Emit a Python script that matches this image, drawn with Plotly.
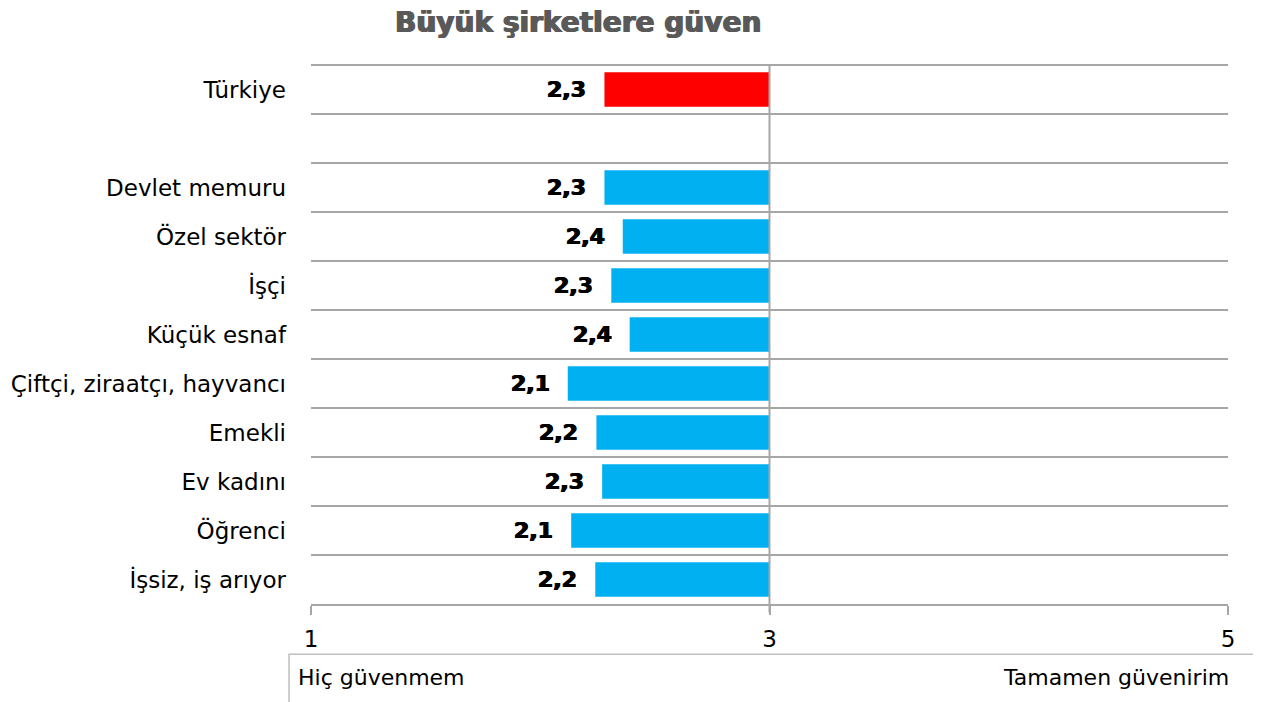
import plotly.graph_objects as go

categories = ["Türkiye", "", "Devlet memuru", "Özel sektör", "İşçi", "Küçük esnaf",
              "Çiftçi, ziraatçı, hayvancı", "Emekli", "Ev kadını", "Öğrenci", "İşsiz, iş arıyor"]
values = [2.28, None, 2.28, 2.36, 2.31, 2.39, 2.12, 2.245, 2.27, 2.135, 2.24]
labels = ["2,3", "", "2,3", "2,4", "2,3", "2,4", "2,1", "2,2", "2,3", "2,1", "2,2"]
bar_colors = ["#FF0000", "#FFFFFF", "#00B0F0", "#00B0F0", "#00B0F0", "#00B0F0",
              "#00B0F0", "#00B0F0", "#00B0F0", "#00B0F0", "#00B0F0"]
ref_value = 3
x_ticks = [1, 3, 5]
x_range = [1, 5]
left_label = "Hiç güvenmem"
right_label = "Tamamen güvenirim"
title = "Büyük şirketlere güven"

ypos = list(range(len(categories)))
idx = [i for i, v in enumerate(values) if v is not None]

fig = go.Figure()
fig.add_trace(go.Bar(
    y=[ypos[i] for i in idx],
    x=[ref_value - values[i] for i in idx],
    base=[values[i] for i in idx],
    orientation="h",
    width=0.7,
    marker=dict(color=[bar_colors[i] for i in idx], line=dict(width=0)),
    hoverinfo="skip",
))
for i in idx:
    fig.add_annotation(x=values[i], y=ypos[i], xref="x", yref="y", text=labels[i],
                       showarrow=False, xanchor="right", yanchor="middle", xshift=-16,
                       font=dict(family="DejaVu Sans", size=22, color="#000000", weight=700,
                                 shadow="0.7px 0 0 #000, -0.7px 0 0 #000"))

grid_color = "#A6A6A6"
fig.add_shape(type="line", xref="x", yref="paper", x0=ref_value, x1=ref_value, y0=-0.016, y1=1,
              line=dict(color=grid_color, width=2), layer="above")
fig.add_shape(type="line", xref="paper", yref="paper", x0=0, x1=1, y0=1, y1=1,
              line=dict(color=grid_color, width=2), layer="below")
# bottom legend box
fig.add_shape(type="rect", xref="paper", yref="paper", x0=-0.024, x1=1.0327, y0=-0.093, y1=-0.4,
              line=dict(color="#BFBFBF", width=1.5))
fig.add_annotation(xref="paper", yref="paper", x=-0.0164, y=-0.137, text=left_label,
                   showarrow=False, xanchor="left", yanchor="middle",
                   font=dict(family="DejaVu Sans", size=22, color="#000"))
fig.add_annotation(xref="paper", yref="paper", x=1.0033, y=-0.137, text=right_label,
                   showarrow=False, xanchor="right", yanchor="middle",
                   font=dict(family="DejaVu Sans", size=22, color="#000"))
# title
fig.add_annotation(xref="paper", yref="paper", x=0.2912, y=1.078, text=title,
                   showarrow=False, xanchor="center", yanchor="middle",
                   font=dict(family="DejaVu Sans", size=28, color="#595959", weight=700,
                             shadow="0.8px 0 0 #595959, -0.8px 0 0 #595959"))

fig.update_layout(
    width=1261, height=702,
    margin=dict(l=303, r=41, t=57, b=106, autoexpand=False),
    plot_bgcolor="#FFFFFF", paper_bgcolor="#FFFFFF",
    showlegend=False,
    xaxis=dict(range=x_range, tickvals=x_ticks, showgrid=False, zeroline=False,
               showline=True, linecolor=grid_color, linewidth=2,
               ticks="outside", ticklen=9, tickwidth=2, tickcolor=grid_color,
               tickfont=dict(family="DejaVu Sans", size=23, color="#000"),
               ticklabelstandoff=4, automargin=False),
    yaxis=dict(range=[len(categories) - 0.5, -0.5], tickvals=ypos, ticktext=categories,
               showgrid=False, zeroline=False, showline=False, ticks="",
               ticklabelstandoff=24, automargin=False,
               tickfont=dict(family="DejaVu Sans", size=23, color="#000"),
               minor=dict(tickvals=[i - 0.5 for i in ypos], showgrid=True,
                          gridcolor=grid_color, gridwidth=2, ticks="")),
)

fig.write_html("out.html")
